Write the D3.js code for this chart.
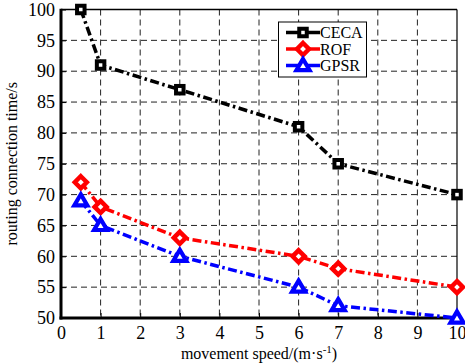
<!DOCTYPE html>
<html><head><meta charset="utf-8">
<script src="https://cdn.jsdelivr.net/npm/d3@7"></script>
<style>body{margin:0;background:#fff}svg{display:block}text{font-family:"Liberation Serif","Times New Roman",serif;fill:#000}</style>
</head><body><svg id="c" width="465" height="364"></svg>
<script>
const speeds = [0.5, 1, 3, 6, 7, 10];
const ceca = [100, 91, 87, 81, 75, 70];
const rof = [72, 68, 63, 60, 58, 55];
const gpsr = [69, 65, 60, 55, 52, 50];
const xTicks = [0,1,2,3,4,5,6,7,8,9,10];
const yTicks = [50,55,60,65,70,75,80,85,90,95,100];
const seriesNames = ["CECA","ROF","GPSR"];
const seriesColors = ["#000000","#ff0000","#0000ff"];

const svg = d3.select("#c");
const L=61, R=457, T=9.5, B=318;
const x = d3.scaleLinear().domain([0,10]).range([L,R]);
const y = d3.scaleLinear().domain([50,100]).range([B,T]);

// grid
const g = svg.append("g");
g.selectAll(".gx").data(xTicks.slice(1,-1)).join("line")
 .attr("x1",d=>x(d)).attr("x2",d=>x(d)).attr("y1",T).attr("y2",B)
 .attr("stroke","#222").attr("stroke-width",1).attr("stroke-dasharray","6,4");
g.selectAll(".gy").data(yTicks.slice(1,-1)).join("line")
 .attr("y1",d=>y(d)).attr("y2",d=>y(d)).attr("x1",L).attr("x2",R)
 .attr("stroke","#222").attr("stroke-width",1).attr("stroke-dasharray","6,4");

// axes
const xa = svg.append("g").attr("transform",`translate(0,${B})`)
 .call(d3.axisBottom(x).tickValues(xTicks).tickSize(-5).tickPadding(8).tickFormat(d3.format("d")));
const ya = svg.append("g").attr("transform",`translate(${L},0)`)
 .call(d3.axisLeft(y).tickValues(yTicks).tickSize(-5).tickPadding(6).tickFormat(d3.format("d")));
[xa,ya].forEach(a=>{a.attr("font-family",'"Liberation Serif",serif').attr("font-size",18);a.select(".domain").remove();a.selectAll(".tick line").attr("stroke","#000");});
xa.selectAll("text").attr("dy","0.71em");
// frame
svg.append("line").attr("x1",L).attr("x2",R).attr("y1",T).attr("y2",T).attr("stroke","#000").attr("stroke-width",1.5);
svg.append("line").attr("x1",R).attr("x2",R).attr("y1",T).attr("y2",B).attr("stroke","#000").attr("stroke-width",1.2);
svg.append("line").attr("x1",L).attr("x2",L).attr("y1",T-0.75).attr("y2",B+1.5).attr("stroke","#000").attr("stroke-width",3);
svg.append("line").attr("x1",L-1.5).attr("x2",R+0.6).attr("y1",B).attr("y2",B).attr("stroke","#000").attr("stroke-width",3);

const data = [ceca,rof,gpsr];
const line = d3.line().x((d,i)=>x(speeds[i])).y(d=>y(d));
function marker(sel, k, cx, cy){
  const c = seriesColors[k];
  if(k===0){
    sel.append("rect").attr("x",cx-3.75).attr("y",cy-3.75).attr("width",7.5).attr("height",7.5)
      .attr("fill","#fff").attr("stroke",c).attr("stroke-width",4);
  } else if(k===1){
    const s=6;
    sel.append("path").attr("d",`M${cx},${cy-s}L${cx+s},${cy}L${cx},${cy+s}L${cx-s},${cy}Z`)
      .attr("fill","#fff").attr("stroke",c).attr("stroke-width",4.5);
  } else {
    const s=6.5;
    sel.append("path").attr("d",`M${cx},${cy-s}L${cx+s},${cy+s*0.7}L${cx-s},${cy+s*0.7}Z`)
      .attr("fill","#fff").attr("stroke",c).attr("stroke-width",4.2).attr("stroke-linejoin","miter");
  }
}
data.forEach((vals,k)=>{
  svg.append("path").datum(vals).attr("d",line).attr("fill","none")
   .attr("stroke",seriesColors[k]).attr("stroke-width",3.5).attr("stroke-dasharray","9,3.5,2.5,3.5");
  const mg = svg.append("g");
  vals.forEach((v,i)=>marker(mg,k,x(speeds[i]),y(v)));
});

// legend
const lg = svg.append("g");
lg.append("rect").attr("x",278.5).attr("y",22).attr("width",88).attr("height",55)
  .attr("fill","#fff").attr("stroke","#000").attr("stroke-width",1);
seriesNames.forEach((n,k)=>{
  const ly = 32.5 + k*16.5;
  lg.append("line").attr("x1",286).attr("x2",320).attr("y1",ly).attr("y2",ly)
    .attr("stroke",seriesColors[k]).attr("stroke-width",3.5);
  marker(lg,k,303,ly);
  lg.append("text").attr("x",320).attr("y",ly).attr("dy","0.35em").style("font-size","16px").text(n);
});

// axis labels
svg.append("text").attr("transform",`translate(17,${(T+B)/2}) rotate(-90)`).attr("text-anchor","middle")
  .style("font-size","16px").text("routing connection time/s");
const xl = svg.append("text").attr("x",259).attr("y",359).attr("text-anchor","middle").style("font-size","16px");
xl.append("tspan").text("movement speed/(m·s");
xl.append("tspan").attr("dy",-6).style("font-size","11px").text("-1");
xl.append("tspan").attr("dy",6).text(")");
</script></body></html>
